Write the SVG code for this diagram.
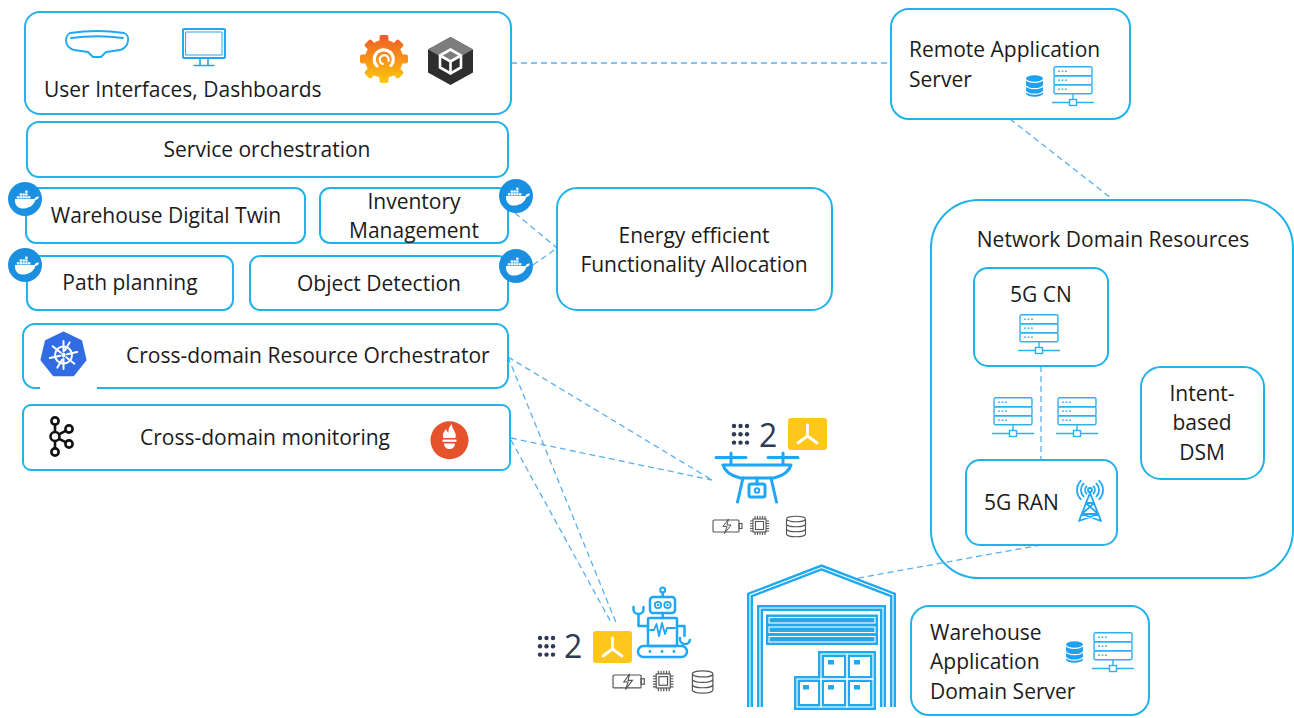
<svg xmlns="http://www.w3.org/2000/svg" xmlns:xlink="http://www.w3.org/1999/xlink" width="1294" height="718" viewBox="0 0 1294 718">
  <style>
    .box { fill: #ffffff; stroke: #22b2ea; stroke-width: 2; }
    .frame { fill: none; stroke: #22b2ea; stroke-width: 2; }
    .lbl { font-family: "Open Sans", "Noto Sans", "Liberation Sans", sans-serif; font-size: 21px; fill: #1b1b1b; }
    .c { text-anchor: middle; }
    .link { fill: none; stroke: #58b0ef; stroke-width: 1.3; stroke-dasharray: 6 4; }
    .blue { fill: none; stroke: #1ea7f5; stroke-linecap: round; stroke-linejoin: round; }
    .grey { fill: none; stroke: #555555; stroke-width: 1.1; }
    .num { font-family: "Open Sans", "Noto Sans", "Liberation Sans", sans-serif; font-size: 32px; fill: #2c3a57; }
  </style>
  <defs>
    <!-- rack server with network line -->
    <g id="srv" fill="none" stroke="#2fb1ef" stroke-width="1.4">
      <rect x="2" y="0.7" width="38" height="9" rx="1.5"/>
      <rect x="2" y="9.7" width="38" height="9" rx="1.5"/>
      <rect x="2" y="18.7" width="38" height="9" rx="1.5"/>
      <path d="M21,27.7 V33.5 M0,36.5 H17.5 M24.5,36.5 H42"/>
      <rect x="17.5" y="33.5" width="7" height="6"/>
      <g fill="#2fb1ef" stroke="none">
        <circle cx="7" cy="5.2" r="0.9"/><circle cx="10.5" cy="5.2" r="0.9"/><circle cx="14" cy="5.2" r="0.9"/>
        <circle cx="7" cy="14.2" r="0.9"/><circle cx="10.5" cy="14.2" r="0.9"/><circle cx="14" cy="14.2" r="0.9"/>
        <circle cx="7" cy="23.2" r="0.9"/><circle cx="10.5" cy="23.2" r="0.9"/><circle cx="14" cy="23.2" r="0.9"/>
      </g>
    </g>
    <!-- filled database -->
    <g id="dbf">
      <path d="M0,3.5 A8.5,3.2 0 0 1 17,3.5 V18.5 A8.5,3.2 0 0 1 0,18.5 Z" fill="#1da1f2"/>
      <path d="M0,4.2 A8.5,3.2 0 0 0 17,4.2 M0,10.5 A8.5,3.2 0 0 0 17,10.5 M0,16 A8.5,3.2 0 0 0 17,16" fill="none" stroke="#ffffff" stroke-width="1.3"/>
    </g>
    <!-- container badge -->
    <g id="dock">
      <circle r="17" fill="#1b8fe0"/>
      <g fill="#ffffff">
        <path d="M-10,0 H9.5 C10.5,-2 12.5,-2.8 14,-2.2 C13.6,-0.2 12.2,0.8 10.4,0.9 C8.6,6.5 3.5,9.5 -2.5,9.5 C-7.5,9.5 -10.5,5.5 -10,0 Z"/>
        <rect x="-8.2" y="-2.8" width="2.4" height="2.2"/><rect x="-5.4" y="-2.8" width="2.4" height="2.2"/>
        <rect x="-2.6" y="-2.8" width="2.4" height="2.2"/><rect x="0.2" y="-2.8" width="2.4" height="2.2"/>
        <rect x="3" y="-2.8" width="2.4" height="2.2"/>
        <rect x="-5.4" y="-5.6" width="2.4" height="2.2"/><rect x="-2.6" y="-5.6" width="2.4" height="2.2"/>
        <rect x="0.2" y="-5.6" width="2.4" height="2.2"/><rect x="0.2" y="-8.4" width="2.4" height="2.2"/>
      </g>
    </g>
    <!-- device resources: battery, cpu, storage -->
    <g id="res">
      <rect class="grey" x="0" y="0" width="26" height="12" rx="1"/>
      <rect class="grey" x="26" y="3.5" width="3" height="5"/>
      <path d="M15.5,-1 L10,6.5 H14 L11.5,13.5 L18,5 H14 Z" fill="#ffffff" stroke="#555555" stroke-width="1"/>
      <rect class="grey" x="40" y="-1" width="13" height="13"/>
      <rect class="grey" x="42.5" y="1.5" width="8" height="8"/>
      <path class="grey" d="M42,-1 V-4 M44.5,-1 V-4 M47,-1 V-4 M49.5,-1 V-4 M52,-1 V-4 M42,12 V15 M44.5,12 V15 M47,12 V15 M49.5,12 V15 M52,12 V15 M40,1 H37 M40,3.5 H37 M40,6 H37 M40,8.5 H37 M40,11 H37 M53,1 H56 M53,3.5 H56 M53,6 H56 M53,8.5 H56 M53,11 H56"/>
      <path class="grey" d="M73.5,-1 A9.5,2.8 0 0 1 92.5,-1 V14 A9.5,2.8 0 0 1 73.5,14 Z M73.5,-1 A9.5,2.8 0 0 0 92.5,-1 M73.5,4 A9.5,2.8 0 0 0 92.5,4 M73.5,9 A9.5,2.8 0 0 0 92.5,9"/>
    </g>
    <!-- edge compute tile -->
    <g id="tile">
      <rect x="0" y="0" width="39" height="32" rx="3" fill="#ffc61b"/>
      <path d="M19.5,18 V7 M19.5,18 L10,25 M19.5,18 L29,25" fill="none" stroke="#ffffff" stroke-width="2.8" stroke-linecap="round"/>
    </g>
    <g id="dots" fill="#2c3a57">
      <circle cx="0" cy="0" r="2.2"/><circle cx="6.5" cy="0" r="2.2"/><circle cx="13" cy="0" r="2.2"/>
      <circle cx="0" cy="8.3" r="2.2"/><circle cx="6.5" cy="8.3" r="2.2"/><circle cx="13" cy="8.3" r="2.2"/>
      <circle cx="0" cy="16.6" r="2.2"/><circle cx="6.5" cy="16.6" r="2.2"/><circle cx="13" cy="16.6" r="2.2"/>
    </g>
    <linearGradient id="gfg" gradientUnits="userSpaceOnUse" x1="0" y1="35" x2="0" y2="83">
      <stop offset="0" stop-color="#f05a28"/>
      <stop offset="1" stop-color="#fbca0a"/>
    </linearGradient>
    <mask id="gear">
      <circle cx="384" cy="59" r="19" fill="#ffffff"/>
      <g fill="#ffffff">
        <rect x="379.5" y="35" width="9" height="9" rx="2"/>
        <rect x="379.5" y="35" width="9" height="9" rx="2" transform="rotate(45 384 59)"/>
        <rect x="379.5" y="35" width="9" height="9" rx="2" transform="rotate(90 384 59)"/>
        <rect x="379.5" y="35" width="9" height="9" rx="2" transform="rotate(135 384 59)"/>
        <rect x="379.5" y="35" width="9" height="9" rx="2" transform="rotate(180 384 59)"/>
        <rect x="379.5" y="35" width="9" height="9" rx="2" transform="rotate(225 384 59)"/>
        <rect x="379.5" y="35" width="9" height="9" rx="2" transform="rotate(270 384 59)"/>
        <rect x="379.5" y="35" width="9" height="9" rx="2" transform="rotate(315 384 59)"/>
      </g>
    </mask>
  </defs>

  <!-- connectors -->
  <g id="connectors">
    <path class="link" d="M511,63 H891"/>
    <path class="link" d="M1010,119 L1111,198"/>
    <path class="link" d="M515,213 L557,248"/>
    <path class="link" d="M533,265 L557,248"/>
    <path class="link" d="M508,357 L712,480"/>
    <path class="link" d="M508,357 L617,625"/>
    <path class="link" d="M511,438 L712,480"/>
    <path class="link" d="M511,440 L612,624"/>
    <path class="link" d="M1041,366 V460"/>
    <path class="link" d="M1041,545 L853,579"/>
  </g>

  <!-- user interfaces -->
  <g id="ui">
    <rect class="box" x="25" y="12" width="486" height="102" rx="15"/>
    <g class="blue" stroke="#3aa9f4" stroke-width="1.8">
      <path d="M70,33 Q97,29 124,33 Q129,35 128,41 Q127,48 120,50 L106,52 L101,57 L93,57 L88,52 L74,50 Q67,48 66,41 Q66,35 70,33 Z"/>
      <path d="M71,38 Q97,34.5 123,38"/>
      <rect x="183" y="29" width="42" height="29" rx="1" stroke-width="2"/>
      <rect x="186" y="32" width="36" height="23" stroke-width="1"/>
      <path d="M200,58 V65 M208,58 V65 M194,65.5 H214" stroke-width="1.6"/>
    </g>
    <rect x="358" y="33" width="52" height="52" fill="url(#gfg)" mask="url(#gear)"/>
    <path d="M377,66 A9.5,9.5 0 1 1 391,65.5" fill="none" stroke="#ffffff" stroke-width="3.2" stroke-linecap="round"/>
    <path d="M388.5,61 A4.5,4.5 0 1 0 383,64" fill="none" stroke="#ffffff" stroke-width="2.2" stroke-linecap="round"/>
    <polygon points="450.5,37 473,49.5 473,72.5 450.5,85 428,72.5 428,49.5" fill="#2e2e2e"/>
    <polygon points="450.5,37 473,49.5 450.5,62 428,49.5" fill="#7d7d7d"/>
    <path d="M440,55.5 L450.5,49.5 L461,55.5 L461,67.5 L450.5,73.5 L440,67.5 Z M440,55.5 L450.5,61.5 L461,55.5 M450.5,61.5 V73.5" fill="none" stroke="#ffffff" stroke-width="2.6" stroke-linejoin="miter"/>
    <text class="lbl" x="44" y="97">User Interfaces, Dashboards</text>
  </g>

  <g id="service-orchestration">
    <rect class="box" x="27" y="122" width="481" height="55" rx="12"/>
    <text class="lbl c" x="267" y="157">Service orchestration</text>
  </g>

  <g id="digital-twin">
    <rect class="box" x="26" y="188" width="279" height="55" rx="10"/>
    <text class="lbl c" x="166" y="223">Warehouse Digital Twin</text>
    <use href="#dock" x="25" y="199"/>
  </g>

  <g id="inventory">
    <rect class="box" x="320" y="188" width="188" height="55" rx="10"/>
    <text class="lbl c" x="414" y="209">Inventory</text>
    <text class="lbl c" x="414" y="238">Management</text>
    <use href="#dock" x="516" y="196"/>
  </g>

  <g id="path-planning">
    <rect class="box" x="27" y="256" width="206" height="54" rx="10"/>
    <text class="lbl c" x="130" y="290">Path planning</text>
    <use href="#dock" x="25" y="265"/>
  </g>

  <g id="object-detection">
    <rect class="box" x="250" y="256" width="258" height="54" rx="10"/>
    <text class="lbl c" x="379" y="291">Object Detection</text>
    <use href="#dock" x="516" y="266"/>
  </g>

  <g id="resource-orchestrator">
    <rect class="box" x="23" y="324" width="485" height="64" rx="12"/>
    <path d="M40,388 H97" stroke="#ffffff" stroke-width="2.4"/>
    <polygon points="63.5,333 80.7,341.3 85,359.9 73,374.8 54,374.8 42,359.9 46.3,341.3" fill="#326ce5" stroke="#326ce5" stroke-width="3" stroke-linejoin="round"/>
    <g fill="none" stroke="#ffffff" stroke-width="2" stroke-linecap="round">
      <circle cx="63.5" cy="355" r="8.5"/>
      <path d="M63.5,341 V351.5 M63.5,358.5 V369 M52.6,346.3 L60.8,352.8 M66.2,357.2 L74.4,363.7 M49.8,358.1 L60.1,355.8 M66.9,354.2 L77.2,351.9 M57.4,367.6 L62,359.8 M65,350.2 L69.6,342.4"/>
    </g>
    <circle cx="63.5" cy="355" r="2.2" fill="#ffffff"/>
    <text class="lbl" x="126" y="363">Cross-domain Resource Orchestrator</text>
  </g>

  <g id="monitoring">
    <rect class="box" x="23" y="405" width="487" height="65" rx="8"/>
    <g fill="none" stroke="#111111" stroke-width="2.6">
      <circle cx="55" cy="421" r="3.6"/>
      <circle cx="55" cy="436.5" r="4.5"/>
      <circle cx="55" cy="452" r="3.6"/>
      <circle cx="69" cy="429" r="3.6"/>
      <circle cx="69" cy="444" r="3.6"/>
      <path d="M55,424.6 V432 M55,441 V448.4 M59,434.3 L65.6,430.8 M59,438.8 L65.6,442.2"/>
    </g>
    <circle cx="449.5" cy="440.3" r="19" fill="#e6522c"/>
    <g fill="#ffffff">
      <path d="M443.5,438 C442,434 444,431.5 446,429 C446.5,431 447.5,432 448.5,432.5 C448,429 449.5,426 452,424 C451.5,428 455,430.5 455.5,434 C456,436 455.8,437 455.3,438 Z"/>
      <rect x="442.5" y="439.6" width="14" height="2.2"/>
      <path d="M444,443.5 H455 C455,447 452.5,449 449.5,449 C446.5,449 444,447 444,443.5 Z"/>
    </g>
    <text class="lbl" x="140" y="445">Cross-domain monitoring</text>
  </g>

  <g id="energy-allocation">
    <rect class="box" x="557" y="188" width="275" height="122" rx="20"/>
    <text class="lbl c" x="694" y="243">Energy efficient</text>
    <text class="lbl c" x="694" y="272">Functionality Allocation</text>
  </g>

  <g id="remote-server">
    <rect class="box" x="891" y="9" width="239" height="110" rx="18"/>
    <text class="lbl" x="909" y="57">Remote Application</text>
    <text class="lbl" x="909" y="87">Server</text>
    <use href="#dbf" x="1026" y="75"/>
    <use href="#srv" x="1052" y="66"/>
  </g>

  <g id="network-domain">
    <rect class="frame" x="931" y="200" width="362" height="378" rx="48"/>
    <text class="lbl c" x="1113" y="247">Network Domain Resources</text>
    <use href="#srv" x="992" y="397"/>
    <use href="#srv" x="1056" y="397"/>
  </g>

  <g id="core-5g">
    <rect class="box" x="974" y="268" width="134" height="98" rx="14"/>
    <text class="lbl c" x="1041" y="302">5G CN</text>
    <use href="#srv" x="1018" y="314"/>
  </g>

  <g id="ran-5g">
    <rect class="box" x="966" y="460" width="151" height="85" rx="14"/>
    <text class="lbl" x="984" y="510">5G RAN</text>
    <g class="blue" stroke-width="1.8">
      <circle cx="1090" cy="490" r="2"/>
      <path d="M1086.5,486.5 A5,5 0 0 0 1086.5,493.5 M1083.6,483.6 A9,9 0 0 0 1083.6,496.4 M1080.8,480.8 A13,13 0 0 0 1080.8,499.2"/>
      <path d="M1093.5,486.5 A5,5 0 0 1 1093.5,493.5 M1096.4,483.6 A9,9 0 0 1 1096.4,496.4 M1099.2,480.8 A13,13 0 0 1 1099.2,499.2"/>
      <path d="M1090,493 L1079,521 M1090,493 L1101,521 M1085.8,503 H1094.2 M1085.8,503 L1098.3,514 M1094.2,503 L1081.7,514 M1081.7,514 H1098.3 M1081.7,514 L1101,521 M1098.3,514 L1079,521"/>
    </g>
  </g>

  <g id="intent-dsm">
    <rect class="box" x="1141" y="367" width="123" height="112" rx="20"/>
    <text class="lbl c" x="1202" y="401">Intent-</text>
    <text class="lbl c" x="1202" y="430">based</text>
    <text class="lbl c" x="1202" y="460">DSM</text>
  </g>

  <g id="warehouse-server">
    <rect class="box" x="911" y="606" width="238" height="109" rx="18"/>
    <text class="lbl" x="930" y="640">Warehouse</text>
    <text class="lbl" x="930" y="669">Application</text>
    <text class="lbl" x="930" y="699">Domain Server</text>
    <use href="#dbf" x="1066" y="641"/>
    <use href="#srv" x="1092" y="632"/>
  </g>

  <g id="drone">
    <use href="#dots" x="734" y="426"/>
    <text class="num" x="759" y="447">2</text>
    <use href="#tile" x="788" y="418"/>
    <g class="blue" stroke-width="3">
      <path d="M716,457.5 H746 M768,457.5 H798 M731,453 V464 M783,453 V464"/>
      <path d="M723,465 H791 C789,472 782,476 774,478 H740 C732,476 725,472 723,465 Z"/>
      <path d="M743,478 L737.5,502 M771,478 L776.5,502 M757,478 V484"/>
      <rect x="749" y="484" width="16" height="13" rx="2"/>
      <circle cx="757" cy="490.5" r="2.2" stroke-width="2"/>
    </g>
    <use href="#res" x="713" y="520"/>
  </g>

  <g id="robot">
    <use href="#dots" x="540" y="638"/>
    <text class="num" x="564" y="658">2</text>
    <use href="#tile" x="593" y="631"/>
    <g class="blue" stroke-width="2.5">
      <circle cx="662.7" cy="590" r="2.5" stroke-width="2"/>
      <path d="M662.7,592.5 V597 M662.7,613 V618"/>
      <rect x="650" y="597" width="25" height="16" rx="3"/>
      <circle cx="658" cy="605" r="3.2" stroke-width="1.8"/>
      <circle cx="667.5" cy="605" r="3.2" stroke-width="1.8"/>
      <rect x="648" y="618" width="29" height="28" rx="1"/>
      <path d="M650,630 H654 L656.5,624 L659,636 L662,623 L665,634 L667,628 H675" stroke-width="1.8"/>
      <path d="M648,626 H638.5 V614 M633.5,607 V609.5 A5,4.5 0 0 0 643.5,609.5 V607"/>
      <path d="M677,626 H684.5 V636 M680,638 A5,5 0 0 0 690,640"/>
      <rect x="638" y="646" width="49" height="11" rx="5.5"/>
    </g>
    <g fill="#1ea7f5">
      <circle cx="658" cy="605" r="1.2"/><circle cx="667.5" cy="605" r="1.2"/>
      <circle cx="650" cy="651.5" r="1.4"/><circle cx="662" cy="651.5" r="1.4"/><circle cx="674" cy="651.5" r="1.4"/>
    </g>
    <use href="#res" transform="translate(613,675) scale(1.08)"/>
  </g>

  <g id="warehouse">
    <!-- outlined walls, door, slats and crates: wide blue stroke with a thin white core -->
    <g fill="none" stroke="#1fa9ee" stroke-width="6" stroke-linejoin="miter">
      <path d="M750,707 V595 L821.5,567.5 L893,595 V707"/>
      <path d="M760,707 V608 H883 V707"/>
      <rect x="769" y="617.5" width="106" height="5.5"/>
      <rect x="769" y="627" width="106" height="5.5"/>
      <rect x="769" y="636.5" width="106" height="5.5"/>
      <rect x="821" y="654" width="26" height="25"/>
      <rect x="847" y="654" width="26" height="25"/>
      <rect x="797" y="679" width="24" height="28"/>
      <rect x="821" y="679" width="26" height="28"/>
      <rect x="847" y="679" width="26" height="28"/>
    </g>
    <g fill="none" stroke="#ffffff" stroke-width="1.1" stroke-linejoin="miter">
      <path d="M750,707 V595 L821.5,567.5 L893,595 V707"/>
      <path d="M760,707 V608 H883 V707"/>
      <rect x="769" y="617.5" width="106" height="5.5"/>
      <rect x="769" y="627" width="106" height="5.5"/>
      <rect x="769" y="636.5" width="106" height="5.5"/>
      <rect x="821" y="654" width="26" height="25"/>
      <rect x="847" y="654" width="26" height="25"/>
      <rect x="797" y="679" width="24" height="28"/>
      <rect x="821" y="679" width="26" height="28"/>
      <rect x="847" y="679" width="26" height="28"/>
    </g>
    <g fill="#1fa9ee">
      <rect x="828" y="660" width="6" height="4.5"/>
      <rect x="854" y="660" width="6" height="4.5"/>
      <rect x="803" y="685" width="6" height="4.5"/>
      <rect x="828" y="685" width="6" height="4.5"/>
      <rect x="854" y="685" width="6" height="4.5"/>
    </g>
  </g>
</svg>
